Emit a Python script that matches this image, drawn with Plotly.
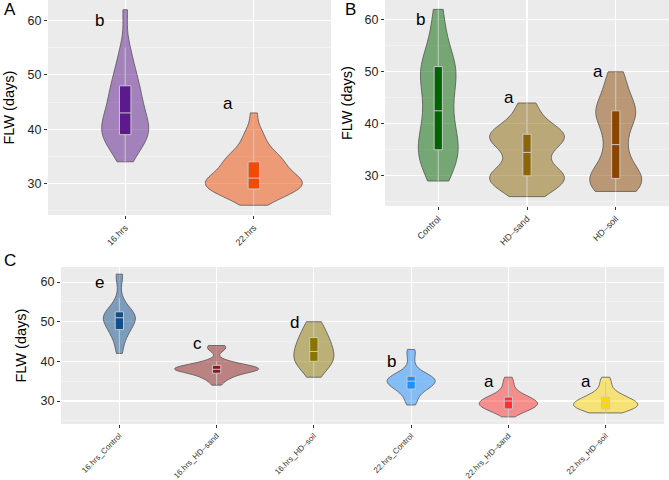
import plotly.graph_objects as go

# ---------------- data ----------------
A_CATS = ["16.hrs", "22.hrs"]
A_16HRS = [34, 36, 37, 38, 38, 39, 39, 40, 40, 40, 41, 42, 43, 43, 44, 45, 46, 47,
           48, 48, 50, 51, 53, 55, 62]
A_22HRS = [26, 27, 27, 28, 28, 28, 29, 29, 29, 29, 29, 30, 30, 30, 30, 30, 31, 31,
           31, 31, 31, 32, 32, 32, 33, 33, 34, 34, 34, 34, 35, 35, 36, 36, 37, 38,
           39, 40, 43]
A_LETTERS = ["b", "a"]
A_LETTER_Y = [60, 44.8]

B_CATS = ["Control", "HD\u2013sand", "HD\u2013soil"]
B_CONTROL = [29, 31, 33, 34, 35, 35, 36, 38, 40, 42, 43, 46, 48, 49, 51, 51, 51,
             54, 58, 62]
B_HDSAND = [26, 27, 28, 29, 29, 30, 30, 30, 31, 32, 34, 35, 36, 37, 37, 38, 38,
            38, 39, 40, 42, 44]
B_HDSOIL = [27, 27, 28, 29, 29, 30, 30, 31, 33, 35, 37, 39, 41, 42, 42, 43, 44,
            46, 48, 50]
B_LETTERS = ["b", "a", "a"]
B_LETTER_Y = [60, 45, 50]

C_CATS = ["16.hrs_Control", "16.hrs_HD\u2013sand", "16.hrs_HD\u2013soil",
          "22.hrs_Control", "22.hrs_HD\u2013sand", "22.hrs_HD\u2013soil"]
C_16_CONTROL = [42, 44, 46, 47, 48, 48, 49, 50, 50, 51, 51, 51, 52, 52, 52, 53,
                54, 56, 61, 62]
C_16_HDSAND = [34, 35, 36, 36, 36, 37, 37, 37, 38, 38, 38, 38, 38, 38, 38, 38,
               38, 38, 38, 39, 39, 39, 39, 39, 40, 40, 43, 43, 44, 44]
C_16_HDSOIL = [36, 38, 39, 40, 40, 40, 41, 41, 42, 43, 44, 44, 45, 46, 46, 48,
               49, 50]
C_22_CONTROL = [29, 30, 31, 32, 33, 33, 33, 34, 34, 34, 35, 35, 35, 35, 35, 36,
                36, 36, 36, 37, 37, 38, 40, 42, 43]
C_22_HDSAND = [26, 27, 27, 28, 28, 28, 28, 28, 29, 29, 29, 29, 29, 29, 30, 30,
               30, 30, 30, 30, 31, 31, 31, 31, 32, 32, 33, 34, 35, 36]
C_22_HDSOIL = [27, 27, 27, 28, 28, 28, 28, 28, 29, 29, 29, 29, 29, 29, 29, 30,
               30, 30, 30, 30, 31, 31, 31, 31, 32, 32, 33, 34, 35, 36]
C_LETTERS = ["e", "c", "d", "b", "a", "a"]
C_LETTER_Y = [60, 44.5, 49.7, 40, 35, 35]

Y_RANGE = [24.2, 63.8]
Y_TITLE = "FLW (days)"

# ---------------- styling ----------------
FONT = "Liberation Sans, Arial, sans-serif"
W, H = 669, 480

panels = [
    dict(ax="", cats=A_CATS, series=[A_16HRS, A_22HRS],
         colors=["#5b1a8e", "#f04a04"], vpx=[47, 97], bw=[2.8, 1.5],
         boxpx=11.5, spacing=128.6, letters=A_LETTERS, ly=A_LETTER_Y,
         dom_x=[48, 331], dom_y=[0, 215], xfont=9, title_x=8),
    dict(ax="2", cats=B_CATS, series=[B_CONTROL, B_HDSAND, B_HDSOIL],
         colors=["#006400", "#8b6508", "#8b4500"], vpx=[40, 75, 52],
         bw=[4.0, 2.0, 2.6], boxpx=8.3, spacing=89, letters=B_LETTERS,
         ly=B_LETTER_Y, dom_x=[385, 669], dom_y=[0, 206], xfont=9, title_x=347),
    dict(ax="3", cats=C_CATS,
         series=[C_16_CONTROL, C_16_HDSAND, C_16_HDSOIL, C_22_CONTROL,
                 C_22_HDSAND, C_22_HDSOIL],
         colors=["#104e8b", "#8b1a1a", "#8b7500", "#1e90ff", "#ff3030", "#ffd700"],
         vpx=[32, 84, 40, 48, 58, 64], bw=[2.0, 0.9, 2.5, 1.3, 1.1, 1.1],
         boxpx=8.3, spacing=97, letters=C_LETTERS, ly=C_LETTER_Y,
         dom_x=[61, 664], dom_y=[267, 424], xfont=8, title_x=20),
]


def rgba(hexc, a):
    h = hexc.lstrip("#")
    r, g, b = int(h[0:2], 16), int(h[2:4], 16), int(h[4:6], 16)
    return f"rgba({r},{g},{b},{a})"


fig = go.Figure()
annotations = []
layout = {}

for p in panels:
    xa = "x" + p["ax"]
    ya = "y" + p["ax"]
    for i, (cat, vals, col, vpx, bw) in enumerate(
            zip(p["cats"], p["series"], p["colors"], p["vpx"], p["bw"])):
        width_units = vpx / p["spacing"]
        fig.add_trace(go.Violin(
            x=[cat] * len(vals), y=vals, xaxis=xa, yaxis=ya,
            name=cat, showlegend=False,
            width=width_units, scalemode="width", spanmode="hard",
            bandwidth=bw, points=False,
            fillcolor=rgba(col, 0.5),
            line=dict(color="#555555", width=0.8),
            box=dict(visible=True, width=p["boxpx"] / vpx,
                     fillcolor=col, line=dict(color="#c8c8c8", width=1)),
            meanline=dict(visible=False),
            hoverinfo="skip",
        ))
        annotations.append(dict(
            x=i - 0.2, y=p["ly"][i], xref=xa, yref=ya, text=p["letters"][i],
            showarrow=False, font=dict(size=17, color="black", family=FONT),
            xanchor="center", yanchor="middle"))

    n = len(p["cats"])
    x0, x1 = p["dom_x"]
    y0, y1 = p["dom_y"]
    layout["xaxis" + p["ax"]] = dict(
        domain=[x0 / W, x1 / W], anchor=ya, type="category",
        categoryorder="array", categoryarray=p["cats"], automargin=False,
        range=[-0.6, n - 0.4], showgrid=True, gridcolor="white", gridwidth=1.1,
        ticks="outside", ticklen=3, tickcolor="#333333", tickwidth=1,
        tickangle=-45, tickfont=dict(size=p["xfont"], color="#333333", family=FONT),
        zeroline=False, showline=False, fixedrange=True)
    layout["yaxis" + p["ax"]] = dict(
        domain=[1 - y1 / H, 1 - y0 / H], anchor=xa, range=Y_RANGE,
        automargin=False,
        tick0=0, dtick=10, showgrid=True, gridcolor="white", gridwidth=1.1,
        minor=dict(dtick=5, tick0=0, showgrid=True, gridcolor="#f6f6f6",
                   gridwidth=0.6),
        ticks="outside", ticklen=3, tickcolor="#333333", tickwidth=1,
        tickfont=dict(size=12.5, color="#262626", family=FONT),
        zeroline=False, showline=False, fixedrange=True)
    annotations.append(dict(
        x=p["title_x"] / W, y=1 - (y0 + y1) / 2 / H, xref="paper", yref="paper",
        text=Y_TITLE, textangle=-90, showarrow=False,
        xanchor="center", yanchor="middle",
        font=dict(size=14.5, color="black", family=FONT)))

# panel labels
for lab, px, py in [("A", 2, -2), ("B", 343, -2), ("C", 2, 249)]:
    annotations.append(dict(
        x=px / W, y=1 - py / H, xref="paper", yref="paper", text=lab,
        showarrow=False, xanchor="left", yanchor="top",
        font=dict(size=17, color="black", family=FONT)))

fig.update_layout(
    width=W, height=H, margin=dict(l=0, r=0, t=0, b=0, autoexpand=False),
    paper_bgcolor="white", plot_bgcolor="#ebebeb",
    violinmode="overlay", showlegend=False, hovermode=False,
    font=dict(family=FONT, color="black"),
    annotations=annotations, **layout)

fig.write_html(
    "out.html",
    config={"displayModeBar": False, "staticPlot": True},
    post_script="document.body.style.margin='0px';document.body.style.padding='0px';")
